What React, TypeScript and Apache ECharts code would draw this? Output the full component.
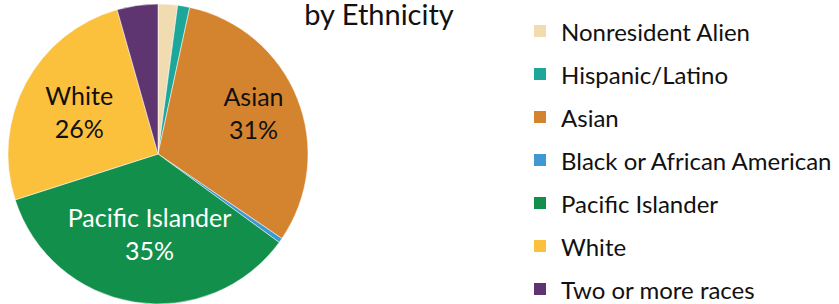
import React, { useEffect, useRef } from "react";
import * as echarts from "echarts";

const categories = [
  "Nonresident Alien",
  "Hispanic/Latino",
  "Asian",
  "Black or African American",
  "Pacific Islander",
  "White",
  "Two or more races",
];
const values = [2.1, 1.3, 31.2, 0.5, 35.1, 25.6, 4.4];
const colors = ["#F1DCB2", "#1DA69A", "#D4842F", "#3E98D4", "#128F4B", "#FBC03C", "#5E3571"];
const labeled = ["Asian", "Pacific Islander", "White"];
const titleText = "by Ethnicity";

export default function App() {
  const ref = useRef<HTMLDivElement>(null);
  useEffect(() => {
    document.body.style.margin = "0";
    const chart = echarts.init(ref.current!, null, { renderer: "svg" });
    const font = "Lato, 'Open Sans', sans-serif";
    const labelOffsets: Record<string, [number, number]> = {
      Asian: [23, -13],
      "Pacific Islander": [4, 2],
      White: [-10, -6],
    };
    chart.setOption({
      animation: false,
      backgroundColor: "#ffffff",
      title: {
        text: titleText,
        left: 379,
        top: 0,
        padding: 0,
        textAlign: "center",
        textStyle: {
          fontFamily: font,
          fontSize: 29,
          lineHeight: 26,
          fontWeight: "normal",
          color: "#111",
        },
      },
      legend: {
        type: "plain",
        orient: "vertical",
        left: 532,
        top: 19,
        height: 290,
        padding: 0,
        itemWidth: 14,
        itemHeight: 14,
        itemGap: 19,
        icon: "rect",
        data: categories,
        textStyle: {
          fontFamily: font,
          fontSize: 24,
          lineHeight: 24,
          color: "#111",
          padding: [0, 0, 0, 9],
        },
      },
      series: [
        {
          type: "pie",
          center: [158, 154],
          radius: 150,
          startAngle: 90,
          clockwise: true,
          avoidLabelOverlap: false,
          itemStyle: { borderColor: "#ffffff", borderWidth: 0.5 },
          label: {
            show: true,
            position: "inside",
            fontFamily: font,
            fontSize: 25,
            lineHeight: 33,
            formatter: (p: any) =>
              labeled.includes(p.name) ? `${p.name}\n${Math.round(p.percent)}%` : "",
          },
          labelLine: { show: false },
          labelLayout: (p: any) => {
            const name = categories[p.dataIndex];
            const o = labelOffsets[name] || [0, 0];
            return { dx: o[0], dy: o[1] };
          },
          data: categories.map((name, i) => ({
            name,
            value: values[i],
            itemStyle: { color: colors[i] },
            label: { color: name === "Pacific Islander" ? "#ffffff" : "#111111" },
          })),
        },
      ],
    });
    return () => chart.dispose();
  }, []);
  return <div ref={ref} style={{ width: 839, height: 304 }} />;
}
